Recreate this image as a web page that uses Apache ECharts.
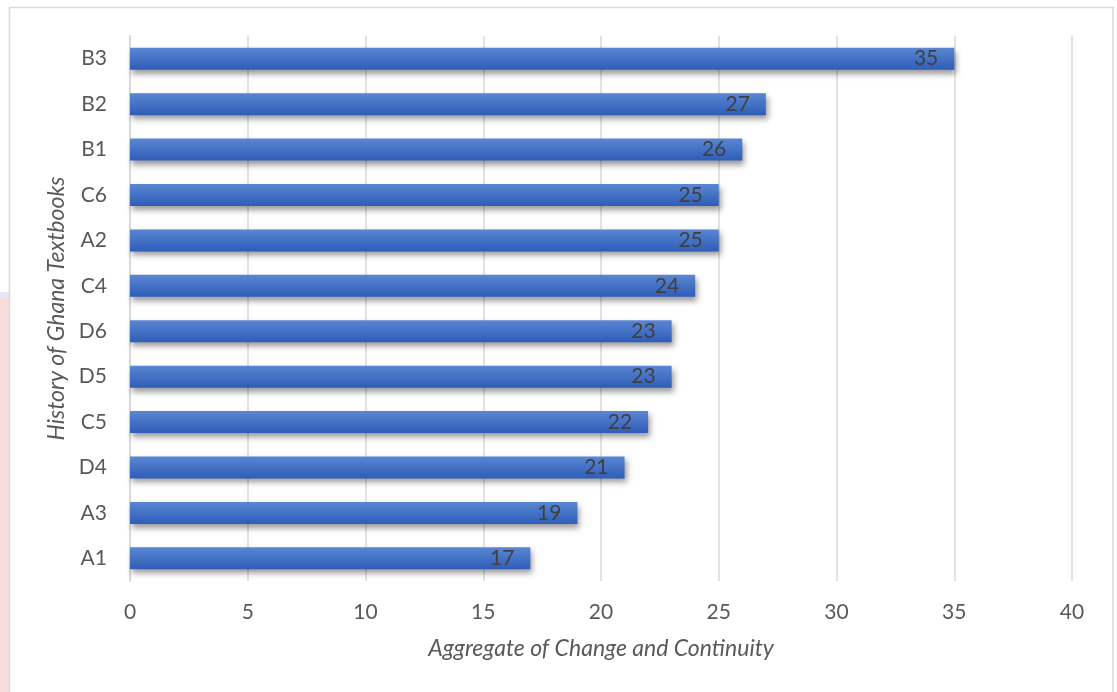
<!DOCTYPE html>
<html>
<head>
<meta charset="utf-8">
<script src="https://cdn.jsdelivr.net/npm/echarts@6/dist/echarts.min.js"></script>
<style>html,body{margin:0;padding:0;background:#fff}#c{width:1117px;height:692px}</style>
</head>
<body>
<div id="c"></div>
<script>
const categories = ['B3','B2','B1','C6','A2','C4','D6','D5','C5','D4','A3','A1'];
const values = [35,27,26,25,25,24,23,23,22,21,19,17];
const xTicks = [0,5,10,15,20,25,30,35,40];
const xTitle = 'Aggregate of Change and Continuity';
const yTitle = 'History of Ghana Textbooks';

const font = 'Lato, "Open Sans", sans-serif';
const chart = echarts.init(document.getElementById('c'), null, {renderer:'canvas'});
chart.setOption({
  animation: false,
  backgroundColor: '#fff',
  graphic: [
    {type:'rect', shape:{x:0,y:297,width:9,height:395}, style:{fill:'#fadcdd'}, z:-1},
    {type:'rect', shape:{x:0,y:292,width:9,height:6}, style:{fill:'#e4e8f2'}, z:-1},
    {type:'rect', shape:{x:9.5,y:7.5,width:1103.5,height:700}, style:{fill:'none',stroke:'#d9d9d9',lineWidth:1.5}, z:-1}
  ],
  grid: {left:130, right:45, top:36, bottom:111, containLabel:false},
  xAxis: {
    type:'value', min:0, max:40, interval:5,
    axisLine:{show:false}, axisTick:{show:false},
    splitLine:{show:true, lineStyle:{color:'#d9d9d9', width:1.5}},
    axisLabel:{color:'#595959', fontSize:21, fontFamily:font, margin:21,
      formatter: v => xTicks.includes(v) ? String(v) : ''},
    name:xTitle, nameLocation:'middle', nameGap:56,
    nameTextStyle:{color:'#595959', fontSize:23, fontStyle:'italic', fontFamily:font}
  },
  yAxis: {
    type:'category', data:categories, inverse:true,
    axisLine:{show:true, lineStyle:{color:'#d9d9d9', width:2}},
    axisTick:{show:false},
    axisLabel:{color:'#595959', fontSize:21, fontFamily:font, margin:23},
    name:yTitle, nameLocation:'middle', nameGap:56, nameRotate:90,
    nameTextStyle:{color:'#595959', fontSize:23, fontStyle:'italic', fontFamily:font}
  },
  series: [{
    type:'bar', data:values, barWidth:22,
    itemStyle:{
      color: new echarts.graphic.LinearGradient(0,0,0,1,[
        {offset:0,color:'#5a86d3'},{offset:0.5,color:'#4472c4'},{offset:1,color:'#2f5cb8'}]),
      shadowColor:'rgba(0,0,0,0.4)', shadowBlur:6, shadowOffsetX:2, shadowOffsetY:4
    },
    label:{show:true, position:'insideRight', distance:16, color:'#404040',
      fontSize:21, fontFamily:font}
  }]
});
</script>
</body>
</html>
